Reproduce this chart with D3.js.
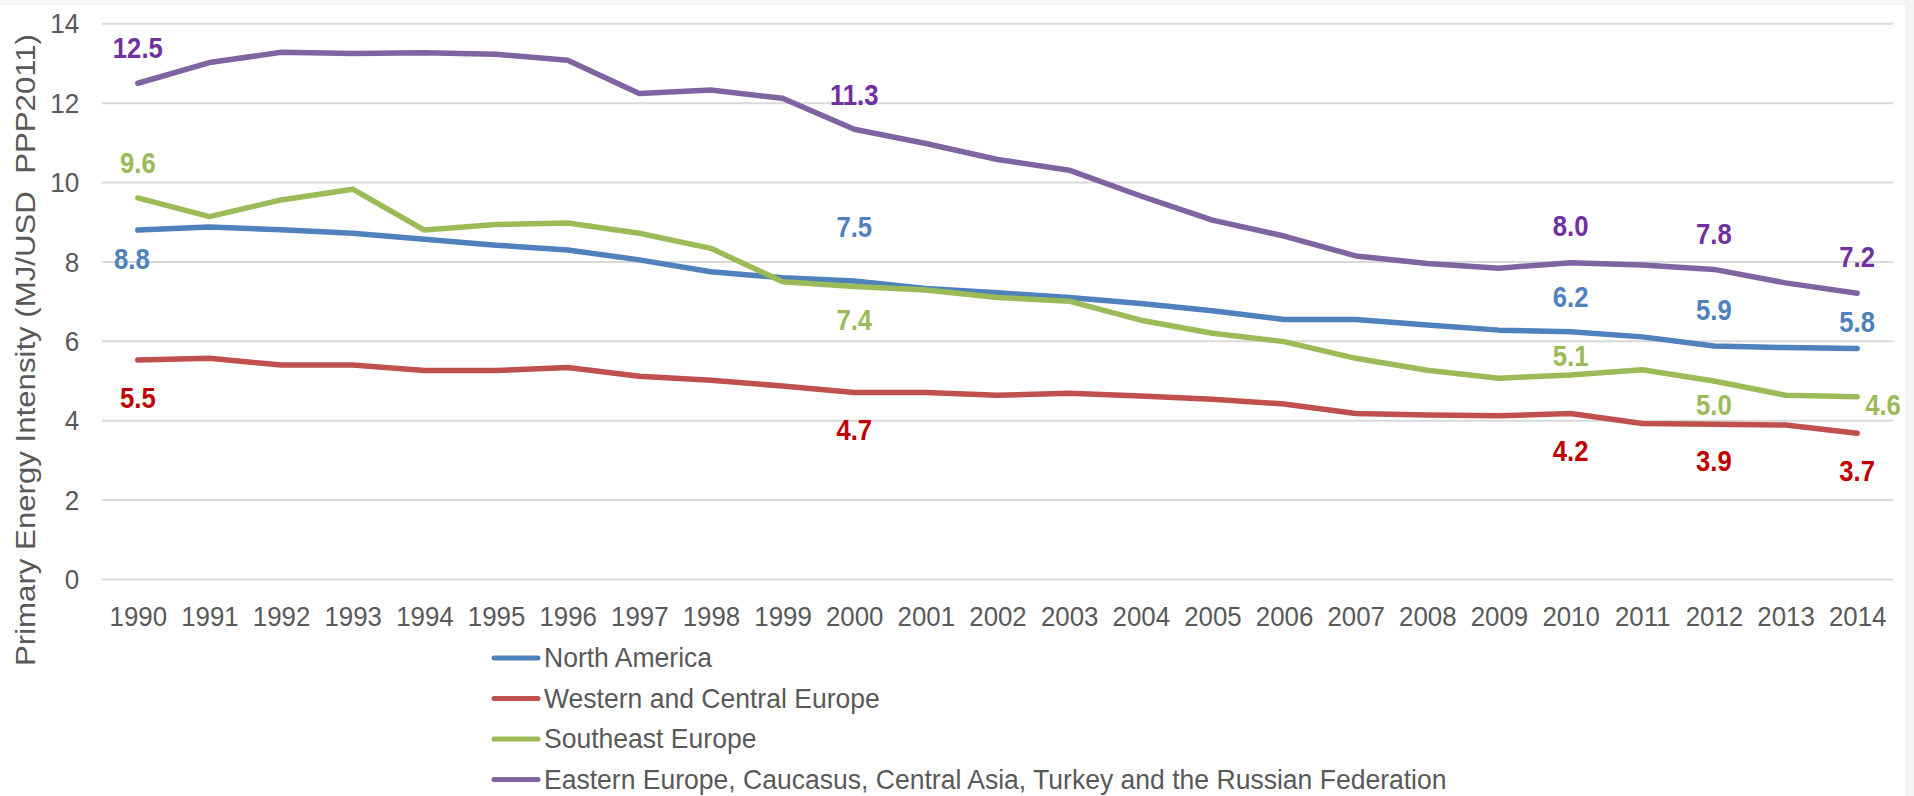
<!DOCTYPE html>
<html>
<head>
<meta charset="utf-8">
<script src="https://cdn.jsdelivr.net/npm/d3@7"></script>
<style>
  html, body { margin: 0; padding: 0; background: #f4f4f4; }
  svg { display: block; }
  text { font-family: "Liberation Sans", Arial, sans-serif; }
</style>
</head>
<body>
<svg id="chart" width="1914" height="796"></svg>
<script>
// ---------- data ----------
const years = [1990,1991,1992,1993,1994,1995,1996,1997,1998,1999,2000,2001,2002,2003,2004,2005,2006,2007,2008,2009,2010,2011,2012,2013,2014];

const northAmerica = [8.79,8.87,8.80,8.71,8.56,8.41,8.29,8.04,7.74,7.59,7.51,7.32,7.21,7.09,6.94,6.76,6.54,6.54,6.40,6.27,6.23,6.10,5.87,5.83,5.81];
const westernCentralEurope = [5.52,5.56,5.39,5.39,5.25,5.25,5.33,5.11,5.01,4.86,4.70,4.70,4.63,4.68,4.61,4.53,4.41,4.17,4.13,4.11,4.17,3.92,3.90,3.88,3.67];
const southeastEurope = [9.60,9.13,9.55,9.82,8.79,8.93,8.97,8.71,8.33,7.49,7.37,7.28,7.09,7.00,6.52,6.19,5.98,5.56,5.26,5.06,5.14,5.27,4.99,4.63,4.59];
const easternEurope = [12.49,13.01,13.27,13.24,13.26,13.22,13.07,12.23,12.32,12.11,11.33,10.97,10.57,10.30,9.65,9.04,8.64,8.14,7.95,7.83,7.97,7.91,7.80,7.46,7.20];

const seriesNames = [
  "North America",
  "Western and Central Europe",
  "Southeast Europe",
  "Eastern Europe, Caucasus, Central Asia, Turkey and the Russian Federation"
];
const seriesValues = [northAmerica, westernCentralEurope, southeastEurope, easternEurope];

const yTicks = [0,2,4,6,8,10,12,14];
const labelYears = [1990,2000,2010,2012,2014];
const yTitle = "Primary Energy Intensity (MJ/USD  PPP2011)";

// ---------- styles / layout ----------
const lineColors  = ["#4F81BD","#C0504D","#9BBB59","#8064A2"];
const labelColors = ["#4F81BD","#C00000","#9BBB59","#7030A0"];
// label offsets (px) per series, per labelled year: [dx, dy, anchor]
const labelOffsets = [
  [[-6,28,"middle"],[0,-55,"middle"],[0,-35,"middle"],[0,-37,"middle"],[0,-27,"middle"]],
  [[0,37,"middle"],[0,37,"middle"],[0,37,"middle"],[0,36,"middle"],[0,37,"middle"]],
  [[0,-36,"middle"],[0,33,"middle"],[0,-20,"middle"],[0,23,"middle"],[8,8,"start"]],
  [[0,-36,"middle"],[0,-35,"middle"],[0,-37,"middle"],[0,-36,"middle"],[0,-37,"middle"]]
];

const plotLeft = 102, plotRight = 1893, plotTop = 23.3, plotBottom = 579;
const textGray = "#595959";

const svg = d3.select("#chart");
svg.append("rect").attr("x",0).attr("y",5).attr("width",1905).attr("height",791).attr("fill","#ffffff");

const x = d3.scalePoint().domain(years).range([plotLeft, plotRight]).padding(0.5);
const y = d3.scaleLinear().domain([0,14]).range([plotBottom, plotTop]);

// y axis + gridlines
const yAxis = svg.append("g")
  .attr("transform", `translate(${plotLeft},0)`)
  .call(d3.axisLeft(y).tickValues(yTicks).tickFormat(d3.format("d"))
        .tickSize(-(plotRight - plotLeft)).tickPadding(24));
yAxis.select(".domain").remove();
yAxis.selectAll(".tick line").attr("stroke","#d9d9d9").attr("stroke-width",2);
yAxis.selectAll(".tick text")
  .attr("fill", textGray).attr("font-size", 27.5)
  .attr("font-family", "Liberation Sans, Arial, sans-serif")
  .attr("x", -24).attr("dy","0.35em")
  .attr("transform","scale(0.95,1)");

// x axis
const xAxis = svg.append("g")
  .attr("transform", `translate(0,${plotBottom})`)
  .call(d3.axisBottom(x).tickSize(0).tickPadding(0));
xAxis.select(".domain").remove();
xAxis.selectAll(".tick text")
  .attr("fill", textGray).attr("font-size", 27.5)
  .attr("font-family", "Liberation Sans, Arial, sans-serif")
  .attr("y", 47).attr("dy", 0)
  .attr("transform","scale(0.94,1)");

// y title
svg.append("text")
  .attr("transform", "translate(35,350) rotate(-90)")
  .attr("text-anchor","middle")
  .attr("fill", textGray)
  .attr("font-size", 27)
  .style("white-space","pre")
  .attr("textLength", 632)
  .attr("lengthAdjust","spacingAndGlyphs")
  .text(yTitle);

// lines
const line = d3.line().x((d,i) => x(years[i])).y(d => y(d));
seriesValues.forEach((vals, s) => {
  svg.append("path")
    .datum(vals)
    .attr("d", line)
    .attr("fill","none")
    .attr("stroke", lineColors[s])
    .attr("stroke-width", 5.5)
    .attr("stroke-linejoin","round")
    .attr("stroke-linecap","round");
});

// data labels
seriesValues.forEach((vals, s) => {
  labelYears.forEach((yr, k) => {
    const i = years.indexOf(yr);
    const [dx, dy, anchor] = labelOffsets[s][k];
    const px = x(yr) + dx, py = y(vals[i]) + dy;
    svg.append("g")
      .attr("transform", `translate(${px},${py}) scale(0.87,1)`)
      .append("text")
      .attr("text-anchor", anchor)
      .attr("dy","0.36em")
      .attr("font-size", 29.5)
      .attr("font-weight","bold")
      .attr("fill", labelColors[s])
      .text(vals[i].toFixed(1));
  });
});

// legend
const legendX = 492, legendY0 = 658, legendStep = 40.5;
seriesNames.forEach((name, s) => {
  const ly = legendY0 + s * legendStep;
  svg.append("line")
    .attr("x1", legendX + 2).attr("x2", legendX + 46)
    .attr("y1", ly).attr("y2", ly)
    .attr("stroke", lineColors[s]).attr("stroke-width", 5)
    .attr("stroke-linecap","round");
  svg.append("g")
    .attr("transform", `translate(${legendX + 52},${ly}) scale(0.965,1)`)
    .append("text")
    .attr("dy","0.33em")
    .attr("font-size", 27.5).attr("fill", textGray)
    .text(name);
});
</script>
</body>
</html>
